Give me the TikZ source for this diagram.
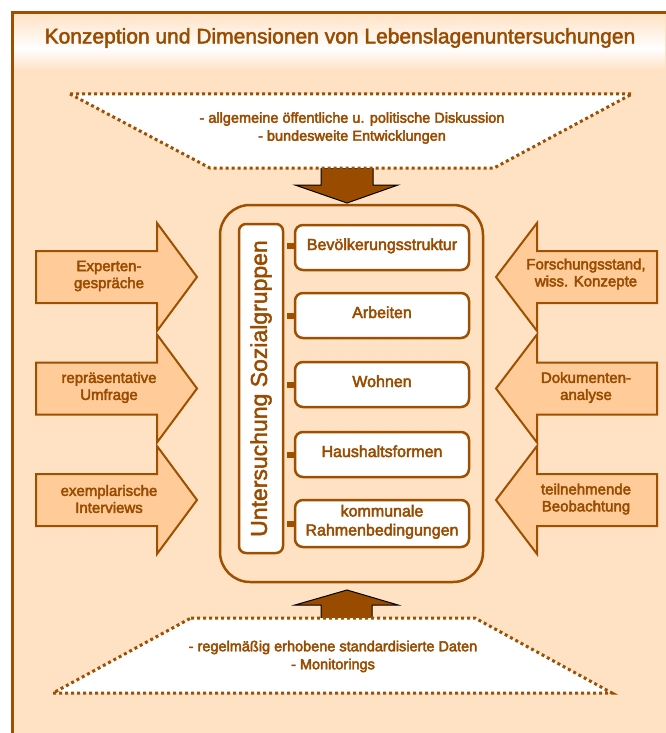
\documentclass[tikz,border=0pt]{standalone}
\usepackage{fontspec}
\setmainfont{Liberation Sans}
\definecolor{framebrown}{RGB}{158,80,0}
\definecolor{textbrown}{RGB}{153,76,0}
\definecolor{peach}{RGB}{255,226,196}
\definecolor{arrowpeach}{RGB}{255,204,153}
\newcommand\heavytext{\special{pdf:literal direct 2 Tr 0.45 w}}

\begin{document}
\begin{tikzpicture}[x=1pt,y=-1pt,
    methodtxt/.style={text=textbrown, align=center, inner sep=0pt,
      font=\fontsize{15}{17}\selectfont\heavytext},
    notetxt/.style={text=textbrown, align=center, inner sep=0pt,
      font=\fontsize{14.5}{18}\selectfont\heavytext},
    topicbox/.style={draw=framebrown, line width=2.5pt, fill=white,
      rounded corners=8pt, minimum width=174pt, minimum height=45pt,
      inner sep=0pt, text height=12pt, text depth=7pt, text=textbrown,
      align=center, font=\fontsize{16}{19}\selectfont\heavytext},
    sidearrow/.style={draw=framebrown, line width=2pt, fill=arrowpeach},
    flowarrow/.style={draw=black, line width=1pt, fill=textbrown},
    dotframe/.style={draw=framebrown, line width=3pt,
      dash pattern=on 3pt off 3pt, fill=white}]
    \useasboundingbox (0,0) rectangle (665,733);
    \fill[white] (0,0) rectangle (665,733);

    % Background and frame
    \fill[peach] (12.3,12.5) rectangle (680,750);
    \shade[top color=peach, bottom color=white] (13.8,14) rectangle (665,48);
    \shade[top color=white, bottom color=peach] (13.8,48) rectangle (665,70);
    \draw[framebrown, line width=3pt] (12.3,12.5) rectangle (680,750);

    % Title
    \node[text=textbrown, inner sep=0pt, font=\fontsize{21}{24}\selectfont\heavytext]
      (title) at (340,38) {Konzeption und Dimensionen von Lebenslagenuntersuchungen};

    % Upper trapezoid with arrow down
    \draw[flowarrow] (321,168) -- (373,168) -- (373,185) -- (398,185)
      -- (347,203) -- (295,185) -- (321,185) -- cycle;
    \draw[dotframe] (70,94) -- (632,94) -- (494,168) -- (210,168) -- cycle;
    \node[notetxt] (discussion) at (352,128)
      {- allgemeine öffentliche u. politische Diskussion\\- bundesweite Entwicklungen};

    % Lower trapezoid with arrow up
    \draw[flowarrow] (321,619) -- (372,619) -- (372,605) -- (398,605)
      -- (347,590) -- (295,605) -- (321,605) -- cycle;
    \draw[dotframe] (191,618) -- (475,618) -- (612,693) -- (53,693) -- cycle;
    \node[notetxt] (monitoring) at (333,656.5)
      {- regelmäßig erhobene standardisierte Daten\\- Monitorings};

    % Central frame
    \node[draw=framebrown, line width=2.5pt, rounded corners=30pt,
      minimum width=263pt, minimum height=377pt] (core) at (351.5,393.5) {};
    \node[draw=framebrown, line width=2.5pt, fill=white, rounded corners=7pt,
      minimum width=329pt, minimum height=44pt, rotate=90, text=textbrown,
      font=\fontsize{23}{26}\selectfont\heavytext] (groups) at (261,388.5)
      {Untersuchung Sozialgruppen};

    % Dimensions
    \node[topicbox] (struktur) at (382,247.5) {Bevölkerungsstruktur};
    \node[topicbox] (arbeiten) at (382,315.5) {Arbeiten};
    \node[topicbox] (wohnen) at (382,384.5) {Wohnen};
    \node[topicbox] (haushalt) at (382,454.5) {Haushaltsformen};
    \node[topicbox, minimum height=47pt, text height=31pt, text depth=7pt]
      (kommunal) at (382,523.5) {kommunale\\Rahmenbedingungen};
    \fill[framebrown] ([shift={(-7,-5)}]struktur.west) rectangle ([shift={(0,1)}]struktur.west);
    \fill[framebrown] ([shift={(-7,-3)}]arbeiten.west) rectangle ([shift={(0,3)}]arbeiten.west);
    \fill[framebrown] ([shift={(-7,-3)}]wohnen.west) rectangle ([shift={(0,3)}]wohnen.west);
    \fill[framebrown] ([shift={(-7,-3)}]haushalt.west) rectangle ([shift={(0,3)}]haushalt.west);
    \fill[framebrown] ([shift={(-7,-3)}]kommunal.west) rectangle ([shift={(0,3)}]kommunal.west);

    % Left arrows
    \draw[sidearrow] (36,251) -- (157,251) -- (157,223) -- (197,277)
      -- (157,331) -- (157,303) -- (36,303) -- cycle;
    \node[methodtxt] (experten) at (109,276) {Experten-\\gespräche};
    \draw[sidearrow] (36,362.5) -- (157,362.5) -- (157,334.5) -- (197,388.5)
      -- (157,442.5) -- (157,414.5) -- (36,414.5) -- cycle;
    \node[methodtxt] (umfrage) at (109,387.5) {repräsentative\\Umfrage};
    \draw[sidearrow] (36,474) -- (157,474) -- (157,446) -- (197,500)
      -- (157,554) -- (157,526) -- (36,526) -- cycle;
    \node[methodtxt] (interviews) at (109,499) {exemplarische\\Interviews};

    % Right arrows
    \draw[sidearrow] (657,251) -- (537,251) -- (537,223) -- (496,277)
      -- (537,331) -- (537,303) -- (657,303) -- cycle;
    \node[methodtxt] (forschung) at (586,274) {Forschungsstand,\\wiss. Konzepte};
    \draw[sidearrow] (657,362.5) -- (537,362.5) -- (537,334.5) -- (496,388.5)
      -- (537,442.5) -- (537,414.5) -- (657,414.5) -- cycle;
    \node[methodtxt] (dokumente) at (586,387.5) {Dokumenten-\\analyse};
    \draw[sidearrow] (657,474) -- (537,474) -- (537,446) -- (496,500)
      -- (537,554) -- (537,526) -- (657,526) -- cycle;
    \node[methodtxt] (beobachtung) at (586,499) {teilnehmende\\Beobachtung};
\end{tikzpicture}
\end{document}
